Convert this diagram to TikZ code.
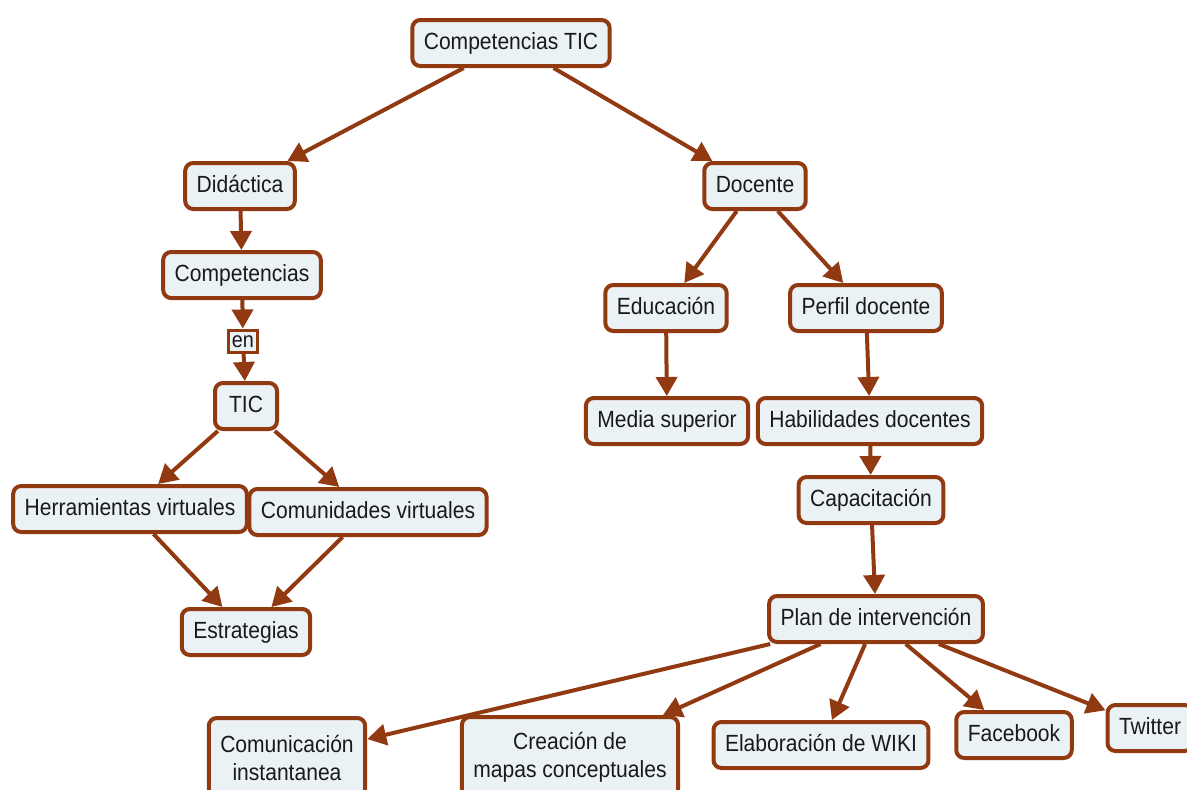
\documentclass[tikz,border=0pt]{standalone}
\usepackage{fontspec}
\setmainfont{Liberation Sans}[FakeStretch=0.9]
\usetikzlibrary{arrows.meta}
\definecolor{brn}{RGB}{145,58,18}
\definecolor{boxfill}{RGB}{235,242,246}
\definecolor{txt}{RGB}{25,25,25}
\begin{document}
\begin{tikzpicture}[x=1pt,y=-1pt,
  concept/.style={draw=brn, line width=4pt, fill=boxfill, rounded corners=8pt,
    font=\fontsize{23.4}{28}\selectfont, text=txt, inner xsep=11.5pt,
    minimum height=46pt, text height=17pt, text depth=4.5pt},
  concepttwo/.style={draw=brn, line width=4pt, fill=boxfill, rounded corners=8pt,
    font=\fontsize{23.4}{28}\selectfont, text=txt, inner xsep=11.5pt,
    minimum height=80pt, align=center, anchor=north},
  linkbox/.style={draw=brn, line width=3pt, fill=boxfill,
    font=\fontsize{22}{24}\selectfont, text=txt, inner xsep=3pt, inner ysep=3pt,
    text height=14pt, text depth=2pt},
  arr/.style={draw=brn, line width=4pt, -{Triangle[length=19pt,width=21pt]}},
]
\useasboundingbox (0,0) rectangle (1187,790);
\clip (0,0) rectangle (1187,790);
\fill[white] (0,0) rectangle (1187,790);

\node[concept] (ctic) at (511,43) {Competencias TIC};
\node[concept] (did) at (240,186) {Didáctica};
\node[concept] (doc) at (755,186) {Docente};
\node[concept] (comp) at (242,275) {Competencias};
\node[linkbox] (en) at (243,341) {en};
\node[concept, minimum width=62pt] (tic) at (246,406) {TIC};
\node[concept] (edu) at (666,308) {Educación};
\node[concept] (perf) at (866,308) {Perfil docente};
\node[concept] (media) at (667,421) {Media superior};
\node[concept] (hab) at (870,421) {Habilidades docentes};
\node[concept] (cap) at (871,500) {Capacitación};
\node[concept] (herr) at (130,509) {Herramientas virtuales};
\node[concept] (comu) at (368,512) {Comunidades virtuales};
\node[concept] (estr) at (246,632) {Estrategias};
\node[concept] (plan) at (876,619) {Plan de intervención};
\node[concepttwo] (com) at (287,716) {Comunicación\\instantanea};
\node[concepttwo] (crea) at (570,715) {Creación de\\mapas conceptuales};
\node[concept] (wiki) at (821,745) {Elaboración de WIKI};
\node[concept] (face) at (1014,735) {Facebook};
\node[concept] (twit) at (1150,728) {Twitter};

\draw[arr] (ctic) -- (did);
\draw[arr] (ctic) -- (doc);
\draw[arr] (did) -- (comp);
\draw[arr] (comp) -- (en);
\draw[arr] (en) -- (tic);
\draw[arr] (tic) -- (herr);
\draw[arr] (tic) -- (comu);
\draw[arr] (herr) -- (estr);
\draw[arr] (comu) -- (estr);
\draw[arr] (doc) -- (edu);
\draw[arr] (doc) -- (perf);
\draw[arr] (edu) -- (media);
\draw[arr] (perf) -- (hab);
\draw[arr] (hab) -- (cap);
\draw[arr] (cap) -- (plan);
\draw[arr] (plan) -- (com);
\draw[arr] (plan) -- (crea);
\draw[arr] (plan) -- (wiki);
\draw[arr] (plan) -- (face);
\draw[arr] (plan) -- (twit);
\end{tikzpicture}
\end{document}
